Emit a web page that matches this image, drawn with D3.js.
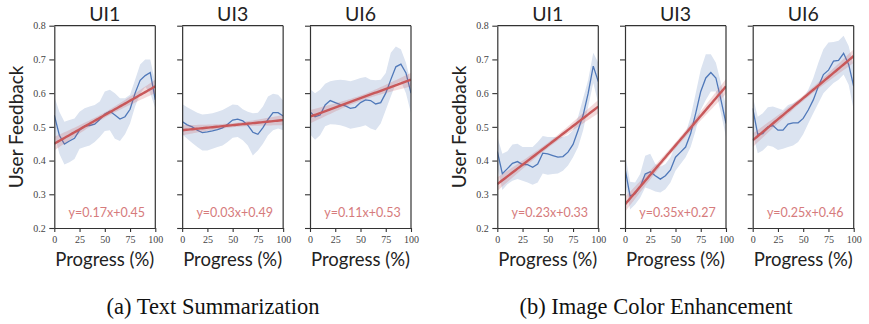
<!DOCTYPE html>
<html>
<head>
<meta charset="utf-8">
<script src="https://cdn.jsdelivr.net/npm/d3@7"></script>
<style>
  body { margin: 0; background: #fff; }
  svg { display: block; }
</style>
</head>
<body>
<svg id="chart" width="869" height="324"></svg>
<script>
// ---- shared axes data ----
const progress = [0, 5, 10, 15, 20, 25, 30, 35, 40, 45, 50, 55, 60, 65, 70, 75, 80, 85, 90, 95, 100];
const uiNames = ["UI1", "UI3", "UI6"];
const yTicks = [0.2, 0.3, 0.4, 0.5, 0.6, 0.7, 0.8];
const xTicks = [0, 25, 50, 75, 100];
const captions = ["(a) Text Summarization", "(b) Image Color Enhancement"];

// ---- (a) Text Summarization: mean feedback and 95% band ----
const textUI1Mean  = [0.535, 0.475, 0.449, 0.458, 0.466, 0.490, 0.503, 0.504, 0.508, 0.522, 0.538, 0.546, 0.535, 0.523, 0.530, 0.552, 0.600, 0.638, 0.652, 0.661, 0.580];
const textUI1Upper = [0.590, 0.545, 0.515, 0.520, 0.525, 0.545, 0.555, 0.560, 0.565, 0.575, 0.605, 0.610, 0.600, 0.585, 0.585, 0.595, 0.640, 0.685, 0.700, 0.700, 0.630];
const textUI1Lower = [0.480, 0.420, 0.388, 0.395, 0.405, 0.435, 0.440, 0.445, 0.455, 0.470, 0.488, 0.490, 0.465, 0.458, 0.478, 0.510, 0.560, 0.598, 0.618, 0.600, 0.555];

const textUI3Mean  = [0.516, 0.506, 0.500, 0.490, 0.483, 0.485, 0.488, 0.492, 0.497, 0.508, 0.520, 0.523, 0.518, 0.505, 0.484, 0.478, 0.498, 0.522, 0.542, 0.542, 0.532];
const textUI3Upper = [0.568, 0.558, 0.550, 0.542, 0.537, 0.538, 0.540, 0.545, 0.550, 0.558, 0.566, 0.565, 0.552, 0.545, 0.540, 0.542, 0.560, 0.590, 0.598, 0.595, 0.578];
const textUI3Lower = [0.478, 0.465, 0.452, 0.440, 0.430, 0.430, 0.435, 0.440, 0.445, 0.455, 0.468, 0.470, 0.460, 0.445, 0.415, 0.430, 0.450, 0.475, 0.490, 0.495, 0.490];

const textUI6Mean  = [0.545, 0.530, 0.535, 0.565, 0.578, 0.572, 0.566, 0.562, 0.555, 0.558, 0.572, 0.580, 0.578, 0.568, 0.572, 0.600, 0.640, 0.678, 0.686, 0.660, 0.600];
const textUI6Upper = [0.612, 0.600, 0.610, 0.628, 0.635, 0.638, 0.640, 0.638, 0.635, 0.640, 0.645, 0.648, 0.640, 0.638, 0.640, 0.660, 0.720, 0.738, 0.730, 0.690, 0.630];
const textUI6Lower = [0.478, 0.462, 0.475, 0.502, 0.508, 0.507, 0.505, 0.500, 0.494, 0.497, 0.500, 0.505, 0.495, 0.490, 0.510, 0.550, 0.590, 0.628, 0.635, 0.600, 0.540];

// ---- (b) Image Color Enhancement: mean feedback and 95% band ----
const imageUI1Mean  = [0.427, 0.361, 0.376, 0.392, 0.397, 0.388, 0.388, 0.380, 0.390, 0.422, 0.420, 0.415, 0.410, 0.412, 0.425, 0.448, 0.490, 0.535, 0.600, 0.680, 0.634];
const imageUI1Upper = [0.471, 0.420, 0.428, 0.448, 0.450, 0.440, 0.440, 0.440, 0.455, 0.473, 0.470, 0.470, 0.470, 0.470, 0.475, 0.490, 0.530, 0.585, 0.640, 0.720, 0.690];
const imageUI1Lower = [0.382, 0.313, 0.330, 0.340, 0.345, 0.340, 0.335, 0.328, 0.335, 0.362, 0.358, 0.360, 0.362, 0.370, 0.385, 0.410, 0.440, 0.490, 0.560, 0.630, 0.570];

const imageUI3Mean  = [0.377, 0.295, 0.302, 0.322, 0.360, 0.367, 0.355, 0.345, 0.355, 0.372, 0.410, 0.425, 0.440, 0.480, 0.540, 0.605, 0.645, 0.661, 0.645, 0.580, 0.510];
const imageUI3Upper = [0.420, 0.337, 0.335, 0.360, 0.414, 0.420, 0.390, 0.382, 0.390, 0.410, 0.445, 0.455, 0.480, 0.530, 0.600, 0.670, 0.715, 0.715, 0.690, 0.630, 0.560];
const imageUI3Lower = [0.337, 0.255, 0.270, 0.290, 0.320, 0.315, 0.308, 0.305, 0.315, 0.335, 0.370, 0.390, 0.410, 0.440, 0.490, 0.550, 0.580, 0.605, 0.605, 0.540, 0.470];

const imageUI6Mean  = [0.555, 0.478, 0.480, 0.500, 0.504, 0.490, 0.490, 0.508, 0.512, 0.512, 0.525, 0.550, 0.580, 0.620, 0.655, 0.668, 0.695, 0.697, 0.718, 0.685, 0.620];
const imageUI6Upper = [0.590, 0.530, 0.540, 0.558, 0.560, 0.555, 0.550, 0.565, 0.570, 0.580, 0.585, 0.610, 0.645, 0.690, 0.730, 0.750, 0.752, 0.755, 0.770, 0.740, 0.680];
const imageUI6Lower = [0.481, 0.422, 0.430, 0.445, 0.441, 0.431, 0.435, 0.440, 0.445, 0.455, 0.478, 0.510, 0.540, 0.570, 0.600, 0.615, 0.630, 0.640, 0.655, 0.625, 0.550];

// ---- linear fits (x = progress / 100) ----
const textSlopes      = [0.17, 0.03, 0.11];
const textIntercepts  = [0.45, 0.49, 0.53];
const imageSlopes     = [0.23, 0.35, 0.25];
const imageIntercepts = [0.33, 0.27, 0.46];
// half-width of the fit's confidence band at the ends and at the middle
const textFitBandEnd  = [0.020, 0.015, 0.020];
const textFitBandMid  = [0.008, 0.006, 0.008];
const imageFitBandEnd = [0.020, 0.022, 0.020];
const imageFitBandMid = [0.008, 0.009, 0.008];

// ---- drawing ----
const groups = [
  {
    caption: captions[0], left: 54.3, step: 127.85,
    mean: [textUI1Mean, textUI3Mean, textUI6Mean],
    upper: [textUI1Upper, textUI3Upper, textUI6Upper],
    lower: [textUI1Lower, textUI3Lower, textUI6Lower],
    slope: textSlopes, intercept: textIntercepts,
    bandEnd: textFitBandEnd, bandMid: textFitBandMid,
    captionX: 213
  },
  {
    caption: captions[1], left: 497.3, step: 127.7,
    mean: [imageUI1Mean, imageUI3Mean, imageUI6Mean],
    upper: [imageUI1Upper, imageUI3Upper, imageUI6Upper],
    lower: [imageUI1Lower, imageUI3Lower, imageUI6Lower],
    slope: imageSlopes, intercept: imageIntercepts,
    bandEnd: imageFitBandEnd, bandMid: imageFitBandMid,
    captionX: 656
  }
];

const panelW = 101, plotTop = 25.7, plotBottom = 228;
const sans = "Lato, 'Open Sans', sans-serif";
const serif = "'Liberation Serif', 'DejaVu Serif', serif";
const blue = "#4f78b9", bandBlue = "#dbe3f0", red = "#c8585a", eqRed = "#d67b7c", axisCol = "#333";

const svg = d3.select("#chart");
const y = d3.scaleLinear().domain([0.2, 0.8]).range([plotBottom, plotTop]);

groups.forEach((g, gi) => {
  uiNames.forEach((name, i) => {
    const x0 = g.left + i * g.step;
    const x = d3.scaleLinear().domain([0, 100]).range([x0, x0 + panelW]);
    const panel = svg.append("g");

    const clipId = `clip-${gi}-${i}`;
    panel.append("clipPath").attr("id", clipId)
      .append("rect").attr("x", x0).attr("y", plotTop).attr("width", panelW).attr("height", plotBottom - plotTop);
    const plot = panel.append("g").attr("clip-path", `url(#${clipId})`);

    const rows = progress.map((p, k) => ({ p, m: g.mean[i][k], lo: g.lower[i][k], hi: g.upper[i][k] }));

    // variability band
    plot.append("path").datum(rows)
      .attr("fill", bandBlue)
      .attr("d", d3.area().x(d => x(d.p)).y0(d => y(d.lo)).y1(d => y(d.hi)));

    // mean feedback line
    plot.append("path").datum(rows)
      .attr("fill", "none").attr("stroke", blue).attr("stroke-width", 1.3)
      .attr("d", d3.line().x(d => x(d.p)).y(d => y(d.m)));

    // fitted line with its confidence band
    const a = g.slope[i], b = g.intercept[i];
    const e = g.bandEnd[i], c = g.bandMid[i];
    const fitPts = d3.range(0, 101, 2).map(p => {
      const t = p / 100;
      const h = Math.sqrt(c * c + (e * e - c * c) * Math.pow(2 * (t - 0.5), 2));
      return { p, v: b + a * t, h };
    });
    plot.append("path").datum(fitPts)
      .attr("fill", red).attr("fill-opacity", 0.22)
      .attr("d", d3.area().x(d => x(d.p)).y0(d => y(d.v - d.h)).y1(d => y(d.v + d.h)));
    plot.append("path").datum(fitPts)
      .attr("fill", "none").attr("stroke", red).attr("stroke-width", 2.4)
      .attr("d", d3.line().x(d => x(d.p)).y(d => y(d.v)));

    // fit equation
    panel.append("text")
      .attr("x", x(52)).attr("y", 217)
      .attr("text-anchor", "middle")
      .attr("font-family", sans).attr("font-size", 12.5)
      .attr("fill", eqRed)
      .text(`y=${a.toFixed(2)}x+${b.toFixed(2)}`);

    // axes
    const yAxis = d3.axisLeft(y).tickValues(yTicks).tickSize(5).tickSizeOuter(0)
      .tickFormat(i === 0 ? d3.format(".1f") : () => "");
    const xAxis = d3.axisBottom(x).tickValues(xTicks).tickSize(4).tickSizeOuter(0)
      .tickFormat(d3.format("d"));

    const ya = panel.append("g").attr("transform", `translate(${x0},0)`).call(yAxis);
    const xa = panel.append("g").attr("transform", `translate(0,${plotBottom})`).call(xAxis);
    [ya, xa].forEach(ax => {
      ax.select(".domain").attr("stroke", axisCol).attr("stroke-width", 1.2);
      ax.selectAll(".tick line").attr("stroke", axisCol).attr("stroke-width", 1.1);
      ax.selectAll(".tick text").attr("font-family", serif).attr("font-size", 10).attr("fill", "#444");
    });
    ya.selectAll(".tick text").attr("x", -8.5);
    xa.selectAll(".tick text").attr("y", 8);

    // top and right spines
    panel.append("line").attr("x1", x0).attr("x2", x0 + panelW).attr("y1", plotTop).attr("y2", plotTop)
      .attr("stroke", axisCol).attr("stroke-width", 1.2);
    panel.append("line").attr("x1", x0 + panelW).attr("x2", x0 + panelW).attr("y1", plotTop).attr("y2", plotBottom)
      .attr("stroke", axisCol).attr("stroke-width", 1.2);

    // panel title and x label
    panel.append("text")
      .attr("x", x0 + panelW / 2).attr("y", 20.7)
      .attr("text-anchor", "middle")
      .attr("font-family", sans).attr("font-size", 19.5).attr("fill", "#222")
      .text(name);
    panel.append("text")
      .attr("x", x0 + panelW / 2).attr("y", 265.5)
      .attr("text-anchor", "middle")
      .attr("font-family", sans).attr("font-size", 18.5).attr("fill", "#222")
      .text("Progress (%)");
  });

  // y label for the group
  svg.append("text")
    .attr("transform", `translate(${g.left - 31},${(plotTop + plotBottom) / 2}) rotate(-90)`)
    .attr("text-anchor", "middle")
    .attr("font-family", sans).attr("font-size", 19).attr("fill", "#222")
    .text("User Feedback");

  // caption
  svg.append("text")
    .attr("x", g.captionX).attr("y", 313.5)
    .attr("text-anchor", "middle")
    .attr("font-family", serif).attr("font-size", 22.5).attr("fill", "#111")
    .text(g.caption);
});
</script>
</body>
</html>
